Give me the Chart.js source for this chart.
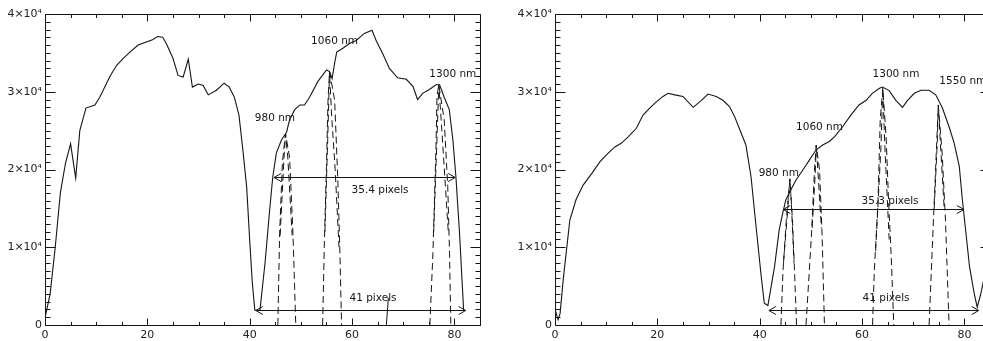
<!DOCTYPE html>
<html>
<head>
<meta charset="utf-8">
<title>Spectra with laser lines</title>
<script src="https://cdn.jsdelivr.net/npm/chart.js@4.4.1/dist/chart.umd.min.js"></script>
<style>
  html, body { margin: 0; padding: 0; background: #fff; overflow: hidden; width: 983px; height: 341px; }
  canvas { position: absolute; top: 0; }
  #c1 { left: 0; }
  #c2 { left: 490px; }
</style>
</head>
<body>
<canvas id="c1" width="490" height="341"></canvas>
<canvas id="c2" width="510" height="341"></canvas>
<script>
// ---- axis ticks ----
const xTicks = [0, 20, 40, 60, 80];
const yTicks = [0, 10000, 20000, 30000, 40000];
const yTickLabels = ['0', '1×10⁴', '2×10⁴', '3×10⁴', '4×10⁴'];

// ---- left spectrum [pixel, counts] ----
const spectrumA = [
  [0,900],[1,4000],[2,10000],[3,17000],[4,20800],[5,23300],[6,18900],[6.8,25000],[8,27900],
  [9.75,28300],[10.7,29300],[12.7,32000],[14,33400],[15.3,34300],[16.6,35100],[18.2,36000],
  [19.8,36400],[21,36700],[22,37100],[23,37000],[23.7,36200],[25,34300],[26,32100],[27,31900],
  [28,34200],[28.8,30600],[30,31000],[30.9,30800],[31.9,29600],[33.5,30200],[35,31100],[36,30600],
  [37,29300],[37.9,27000],[38.6,22900],[39.4,17800],[40,10900],[40.5,5500],[41,1900],[42,1900],
  [43,8000],[43.9,14800],[44.5,19000],[45.2,22100],[46.2,23800],[47.2,24800],[47.8,26400],
  [48.8,27700],[49.8,28300],[50.7,28300],[51.7,29300],[53.3,31300],[55,32800],[55.6,32600],
  [56.1,31700],[56.6,33700],[57,35100],[58.2,35600],[59.5,36200],[60.8,36600],[62.4,37500],
  [63.9,37900],[64.7,36600],[66,34900],[67.3,33000],[68.9,31800],[70.6,31600],[71.9,30700],
  [72.8,29000],[73.8,29800],[75.1,30300],[76.4,30900],[77.1,30900],[78,29300],[79,27700],
  [79.7,23800],[80.3,19000],[81,11800],[81.8,1900]
];

// ---- right spectrum [pixel, counts] ----
const spectrumB = [
  [0,2000],[0.6,700],[1.0,1500],[1.6,5800],[2.9,13500],[4.1,16100],[5.5,18000],[7.2,19500],
  [8.8,21000],[10.4,22100],[11.7,22900],[13.0,23400],[14.3,24200],[15.9,25300],[17.2,27000],
  [18.5,27900],[19.8,28700],[21.1,29400],[22.1,29800],[23.4,29600],[25.0,29400],[27.0,28000],
  [28.6,28900],[29.9,29700],[31.5,29400],[32.8,28900],[34.1,28100],[35.1,26800],[36.0,25300],
  [37.3,23150],[38.3,19100],[39.3,12600],[40.3,6200],[40.9,2800],[41.6,2500],[42.9,7500],
  [43.8,12200],[44.5,14400],[45.1,16100],[46.1,17400],[47.1,18650],[48.4,19900],[49.7,21200],
  [51.0,22500],[52.3,23150],[53.6,23600],[54.6,24200],[56.2,25500],[57.8,27000],[59.4,28300],
  [60.8,28900],[62.0,29800],[63.4,30450],[64.0,30600],[65.3,30150],[66.6,28900],[67.9,28000],
  [68.9,28900],[70.2,29800],[71.5,30200],[73.1,30200],[74.4,29600],[75.7,27900],[77.0,25500],
  [78.0,23400],[79.0,20400],[79.6,16100],[80.3,11800],[81.0,7500],[81.9,4100],[82.5,2300],
  [83.2,4000],[84,6500]
];

// ---- laser line profiles, left panel ----
const a980Outer  = [[45.5,0],[45.85,11800],[46.4,21000],[47.0,24600],[47.8,21500],[48.45,11800],[49.0,0]];
const a980Inner  = [[45.95,11500],[46.7,21500],[47.0,24600],[47.45,21500],[48.3,11500]];
const a1060Outer = [[54.25,0],[54.6,11000],[55.0,20400],[55.3,28900],[55.6,32600],[56.6,28900],[57.2,19000],[57.6,10000],[57.95,0]];
const a1060Inner = [[54.7,12000],[55.25,24000],[55.6,32600],[56.0,27000],[56.7,20000],[57.45,10000]];
const a1300Outer = [[75.2,0],[75.8,9200],[76.4,22900],[76.6,29500],[76.95,30900],[78.0,26400],[78.7,17800],[79.05,9200],[79.3,0]];
const a1300Inner = [[75.95,12000],[76.65,25000],[76.95,30900],[77.55,25000],[78.8,12000]];
const aStray     = [[67.1,3500],[66.7,0]];

// ---- laser line profiles, right panel ----
const b980Outer  = [[44.15,0],[44.55,7000],[45.2,13500],[45.9,18800],[46.4,13500],[46.8,7000],[47.2,0]];
const b980Inner  = [[44.65,8000],[45.55,15500],[45.9,18800],[46.2,15500],[46.7,8000]];
const b1060Outer = [[49.05,0],[50.1,11400],[50.7,19900],[51.05,23150],[51.7,19900],[52.2,11400],[52.65,0]];
const b1060Inner = [[50.25,12500],[50.85,19500],[51.05,23150],[51.4,19500],[52.05,12500]];
const b1300Outer = [[62.05,0],[62.4,7000],[63.1,15650],[63.55,26400],[64.05,30450],[64.7,24200],[65.2,15650],[65.7,8800],[66.2,0]];
const b1300Inner = [[62.65,9500],[63.7,23000],[64.05,30450],[64.45,23000],[65.3,11000]];
const b1550Outer = [[73.1,0],[73.95,13500],[74.5,22100],[74.9,28300],[75.65,22100],[76.3,13500],[77.0,0]];
const b1550Inner = [[74.1,15000],[74.7,23500],[74.9,28300],[75.3,23500],[76.05,15000]];

// ---- width arrows [from, to, level] ----
const arrowsA = [[44.75, 80.15, 19080], [41.2, 82.2, 1930]];
const arrowsB = [[44.6, 79.9, 14880], [41.8, 82.8, 1930]];

// ---- annotations [text, pixel, counts] ----
const labelsA = [
  ['980 nm', 41.0, 26580], ['1060 nm', 52.0, 36440], ['1300 nm', 75.1, 32280],
  ['35.4 pixels', 59.9, 17270], ['41 pixels', 59.5, 3470]
];
const labelsB = [
  ['980 nm', 39.8, 19510], ['1060 nm', 47.1, 25380], ['1300 nm', 62.05, 32280], ['1550 nm', 75.1, 31300],
  ['35.3 pixels', 59.9, 15860], ['41 pixels', 60.1, 3470]
];

const INK = '#151515';
const FONT = '"DejaVu Sans", sans-serif';

const toXY = arr => arr.map(([x, y]) => ({ x, y }));

// frame with inward ticks on all four sides, arrows and text annotations
const idlFrame = {
  id: 'idlFrame',
  afterDatasetsDraw(chart, args, opts) {
    const { ctx, chartArea: a, scales: { x, y } } = chart;
    const L = Math.round(a.left) + 0.5, R = Math.round(a.right) + 0.5;
    const T = Math.round(a.top) + 0.5, B = Math.round(a.bottom) + 0.5;
    ctx.save();
    ctx.strokeStyle = INK;
    ctx.lineWidth = 1;
    ctx.beginPath();
    ctx.rect(L, T, R - L, B - T);
    for (let v = 0; v <= x.max + 1e-9; v += 5) {
      const px = Math.round(x.getPixelForValue(v)) + 0.5;
      const len = xTicks.includes(v) ? 7 : 3.5;
      ctx.moveTo(px, B); ctx.lineTo(px, B - len);
      ctx.moveTo(px, T); ctx.lineTo(px, T + len);
    }
    for (let v = 0; v <= y.max + 1e-9; v += 1000) {
      const py = Math.round(y.getPixelForValue(v)) + 0.5;
      const len = yTicks.includes(v) ? 10 : 5;
      ctx.moveTo(L, py); ctx.lineTo(L + len, py);
      ctx.moveTo(R, py); ctx.lineTo(R - len, py);
    }
    ctx.stroke();

    // double-headed open arrows
    ctx.beginPath();
    for (const [x1, x2, lv] of opts.arrows) {
      const p1 = x.getPixelForValue(x1), p2 = x.getPixelForValue(x2);
      const py = Math.round(y.getPixelForValue(lv)) + 0.5;
      ctx.moveTo(p1, py); ctx.lineTo(p2, py);
      ctx.moveTo(p1 + 7, py - 4); ctx.lineTo(p1, py); ctx.lineTo(p1 + 7, py + 4);
      ctx.moveTo(p2 - 7, py - 4); ctx.lineTo(p2, py); ctx.lineTo(p2 - 7, py + 4);
    }
    ctx.stroke();

    ctx.fillStyle = INK;
    ctx.font = '10.5px ' + FONT;
    ctx.textAlign = 'left';
    ctx.textBaseline = 'middle';
    for (const [t, lx, ly] of opts.labels) {
      ctx.fillText(t, x.getPixelForValue(lx), y.getPixelForValue(ly));
    }
    ctx.restore();
  }
};

function profile(arr) {
  return { data: toXY(arr), borderColor: INK, borderWidth: 1, borderDash: [7, 4], pointRadius: 0, tension: 0, fill: false };
}

function panel(id, spectrum, profiles, extra, arrows, labels, axisWidth, rightPad) {
  const datasets = [
    { data: toXY(spectrum), borderColor: INK, borderWidth: 1.1, pointRadius: 0, tension: 0, fill: false },
    ...profiles.map(profile),
    ...extra.map(arr => ({ data: toXY(arr), borderColor: INK, borderWidth: 1, pointRadius: 0, tension: 0, fill: false }))
  ];
  return new Chart(document.getElementById(id), {
    type: 'line',
    data: { datasets },
    options: {
      responsive: false,
      animation: false,
      layout: { padding: { left: 0, top: 14, right: rightPad, bottom: 0 } },
      plugins: {
        legend: { display: false },
        tooltip: { enabled: false },
        idlFrame: { arrows, labels }
      },
      scales: {
        x: {
          type: 'linear', min: 0, max: 85,
          afterBuildTicks: s => { s.ticks = xTicks.map(v => ({ value: v })); },
          afterFit: s => { s.height = 16; },
          grid: { display: false, drawTicks: false },
          border: { display: false },
          ticks: { color: '#222', font: { family: FONT, size: 11 }, padding: 4, maxRotation: 0, autoSkip: false }
        },
        y: {
          type: 'linear', min: 0, max: 40000,
          afterBuildTicks: s => { s.ticks = yTicks.map(v => ({ value: v })); },
          afterFit: s => { s.width = axisWidth; },
          grid: { display: false, drawTicks: false },
          border: { display: false },
          ticks: {
            color: '#222', font: { family: FONT, size: 11 }, padding: 3, autoSkip: false,
            callback: v => yTickLabels[yTicks.indexOf(v)]
          }
        }
      }
    },
    plugins: [idlFrame]
  });
}

panel('c1', spectrumA,
  [a980Outer, a980Inner, a1060Outer, a1060Inner, a1300Outer, a1300Inner],
  [aStray], arrowsA, labelsA, 45, 10);

panel('c2', spectrumB,
  [b980Outer, b980Inner, b1060Outer, b1060Inner, b1300Outer, b1300Inner, b1550Outer, b1550Inner],
  [], arrowsB, labelsB, 65, 10);
</script>
</body>
</html>
